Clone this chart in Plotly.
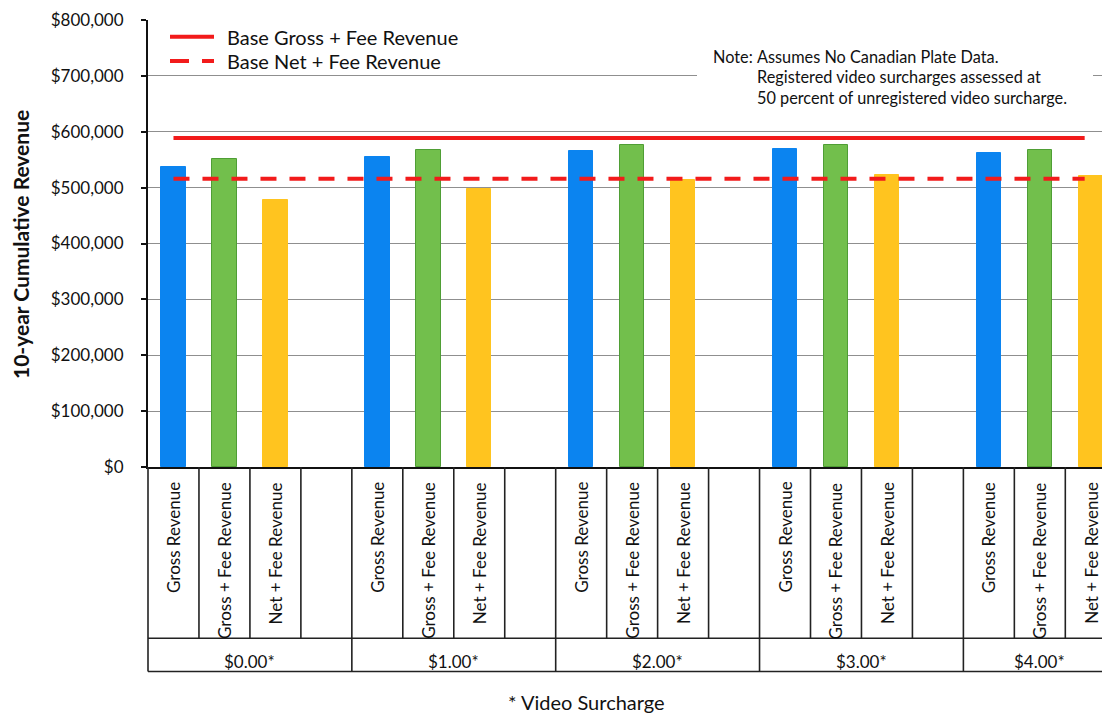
import plotly.graph_objects as go

# ---- data -------------------------------------------------------------
surcharges = ["$0.00*", "$1.00*", "$2.00*", "$3.00*", "$4.00*"]
series_names = ["Gross Revenue", "Gross + Fee Revenue", "Net + Fee Revenue"]
gross_revenue = [537000, 555000, 566000, 569000, 562000]
gross_fee_revenue = [551000, 568000, 576000, 577000, 567000]
net_fee_revenue = [477000, 498000, 513000, 522000, 521000]
base_gross_fee = 589000
base_net_fee = 516000

y_ticks = [0, 100000, 200000, 300000, 400000, 500000, 600000, 700000, 800000]
y_tick_text = ["$0", "$100,000", "$200,000", "$300,000", "$400,000",
               "$500,000", "$600,000", "$700,000", "$800,000"]
note_lines = [
    "Assumes No Canadian Plate Data.",
    "Registered video surcharges assessed at",
    "50 percent of unregistered video surcharge.",
]

# ---- styling ----------------------------------------------------------
FONT = "Lato"
TXT = "#111111"
colors = ["#0b84f0", "#72bf4c", "#ffc41f"]
outline = ["#0b84f0", "#4f9e35", "#ffc41f"]
RED = "#f21b1b"

# every surcharge group takes four slots: three bars and one spacer
SLOTS = 4
x_lo, x_hi = -0.5, 18.22
span = x_hi - x_lo

L, T, W, H = 148, 20, 954, 447          # plot box in pixels
BOTTOM = T + H


def px_x(p):
    return (p - L) / W


def px_y(p):
    return (BOTTOM - p) / H


def data_x_to_paper(v):
    return (v - x_lo) / span


fig = go.Figure()

all_series = [gross_revenue, gross_fee_revenue, net_fee_revenue]
for s, (name, vals) in enumerate(zip(series_names, all_series)):
    xs = [g * SLOTS + s for g in range(len(surcharges))]
    fig.add_trace(go.Bar(
        x=xs, y=vals, name=name, width=0.48,
        marker=dict(color=colors[s], line=dict(color=outline[s], width=1)),
        showlegend=False,
    ))

last_slot = (len(surcharges) - 1) * SLOTS + 2
line_x = [0, last_slot - 0.12]
fig.add_trace(go.Scatter(
    x=line_x, y=[base_gross_fee, base_gross_fee], mode="lines",
    line=dict(color=RED, width=4), name="Base Gross + Fee Revenue", showlegend=False,
))
fig.add_trace(go.Scatter(
    x=line_x, y=[base_net_fee, base_net_fee], mode="lines",
    line=dict(color=RED, width=4, dash="16px,13px"), name="Base Net + Fee Revenue",
    showlegend=False,
))

shapes = []
annotations = []

# hand-drawn legend in the upper-left corner
legend_rows = [("Base Gross + Fee Revenue", "solid", 36.7), ("Base Net + Fee Revenue", "19px,13px", 61)]
for label, dash, ypx in legend_rows:
    shapes.append(dict(type="line", xref="paper", yref="paper",
                       x0=px_x(170), x1=px_x(214), y0=px_y(ypx), y1=px_y(ypx),
                       line=dict(color=RED, width=4, dash=dash)))
    annotations.append(dict(text=label, xref="paper", yref="paper", x=px_x(225), y=px_y(ypx),
                            xanchor="left", yanchor="middle", showarrow=False,
                            font=dict(family=FONT, size=20, color=TXT)))

# note box (white backing hides the gridline behind it)
shapes.append(dict(type="rect", xref="paper", yref="paper", layer="above",
                   x0=px_x(697), x1=px_x(1093), y0=px_y(112), y1=px_y(40),
                   fillcolor="white", line=dict(width=0)))
annotations.append(dict(text="Note:", xref="paper", yref="paper", x=px_x(711), y=px_y(56),
                        xanchor="left", yanchor="middle", showarrow=False,
                        font=dict(family=FONT, size=16.3, color=TXT)))
for i, line in enumerate(note_lines):
    annotations.append(dict(text=line, xref="paper", yref="paper", x=px_x(755), y=px_y(56 + 20.5 * i),
                            xanchor="left", yanchor="middle", showarrow=False,
                            font=dict(family=FONT, size=16.3, color=TXT)))

# category table under the x axis
row_mid = px_y(638.3)
row_bot = px_y(671.5)
k = 0
while k - 0.5 < x_hi:
    xp = data_x_to_paper(k - 0.5)
    y_end = row_bot if k % SLOTS == 0 else row_mid
    shapes.append(dict(type="line", xref="paper", yref="paper", x0=xp, x1=xp, y0=0, y1=y_end,
                       line=dict(color="#222222", width=1.6)))
    k += 1
for yv in (row_mid, row_bot):
    shapes.append(dict(type="line", xref="paper", yref="paper", x0=0, x1=1, y0=yv, y1=yv,
                       line=dict(color="#222222", width=1.6)))

for g, grp in enumerate(surcharges):
    for s, name in enumerate(series_names):
        annotations.append(dict(text=name, xref="x", yref="paper", x=g * SLOTS + s, y=px_y(480),
                                xanchor="center", yanchor="top", textangle=-90, showarrow=False,
                                font=dict(family=FONT, size=17, color=TXT)))
    # group label centred on its block of slots (the last block has no spacer)
    g_start = g * SLOTS - 0.5
    g_end = min(g * SLOTS + SLOTS - 0.5, last_slot + 0.5)
    annotations.append(dict(text=grp, xref="x", yref="paper", x=(g_start + g_end) / 2, y=px_y(661.5),
                            xanchor="center", yanchor="middle", showarrow=False,
                            font=dict(family=FONT, size=17, color=TXT)))

annotations.append(dict(text="* Video Surcharge", xref="paper", yref="paper", x=px_x(586), y=px_y(701.5),
                        xanchor="center", yanchor="middle", showarrow=False,
                        font=dict(family=FONT, size=20, color=TXT)))
annotations.append(dict(text="<b>10-year Cumulative Revenue</b>", xref="paper", yref="paper",
                        x=px_x(20), y=px_y(245), xanchor="center", yanchor="middle",
                        textangle=-90, showarrow=False,
                        font=dict(family=FONT, size=21, color=TXT)))

fig.update_layout(
    width=1102, height=713, autosize=False,
    margin=dict(l=L, r=1102 - L - W, t=T, b=713 - BOTTOM, pad=0),
    paper_bgcolor="white", plot_bgcolor="white",
    bargap=0, barmode="overlay",
    shapes=shapes, annotations=annotations,
    font=dict(family=FONT, color=TXT),
    xaxis=dict(range=[x_lo, x_hi], showticklabels=False, ticks="", showgrid=False,
               zeroline=False, showline=True, linecolor="#111111", linewidth=2),
    yaxis=dict(range=[0, 800000], tickmode="array", tickvals=y_ticks, ticktext=y_tick_text,
               ticks="outside", ticklen=5, tickcolor="#111111", tickwidth=1.5,
               ticklabelstandoff=14,
               tickfont=dict(family=FONT, size=17, color=TXT),
               showgrid=True, gridcolor="#8f8f8f", gridwidth=1,
               zeroline=False, showline=True, linecolor="#111111", linewidth=2),
)

fig.write_html("out.html", config={"displayModeBar": False})
